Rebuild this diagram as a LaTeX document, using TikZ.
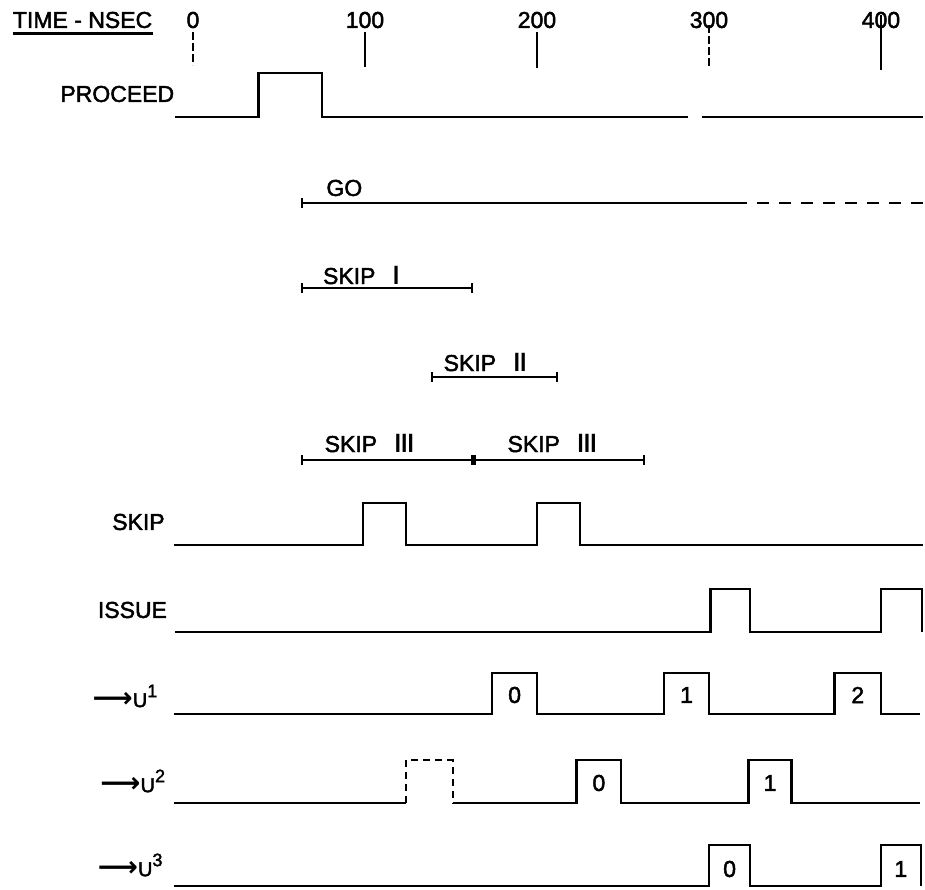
\documentclass[tikz,border=0pt]{standalone}
\usepackage{fontspec}
\setmainfont{Liberation Sans}[BoldFont={Liberation Sans}, BoldFeatures={FakeBold=2}]
\newfontfamily\symfont{DejaVu Sans}
\newcommand{\rmnum}[1]{{\symfont\mdseries\fontsize{12.5}{14}\selectfont\scalebox{1.3}[1]{#1}}}
\newcommand{\uarrow}{{\symfont\fontsize{14}{14}\selectfont ⟶}}
\usetikzlibrary{arrows.meta, positioning}

\begin{document}
\begin{tikzpicture}[x=0.86pt, y=-0.5pt,
		lbl/.style={font=\fontsize{11.5}{13}\selectfont\bfseries, inner sep=0pt},
		ulbl/.style={lbl, anchor=east},
		signal/.style={line width=1.2pt, line join=miter},
		ghost/.style={signal, dash pattern=on 3.5pt off 2.5pt},
		span/.style={signal, {Bar[width=5pt]}-{Bar[width=5pt]}},
		tick/.style={line width=1.1pt}
	]
	\useasboundingbox (-112.2,0) rectangle (425.6,890);

	% time scale
	\node[lbl] (axis) at (-64.2,20) {TIME - NSEC};
	\draw[line width=1.3pt] ([yshift=-2.5pt]axis.south west) -- ([yshift=-2.5pt]axis.south east);
	\foreach \t in {0,100,...,400}
		\node[lbl, fill=white, inner sep=0.5pt] (n\t) at (\t,20) {\t};
	\foreach \t/\a/\b in {100/32/67, 200/32/68}
		\draw[tick] (\t,\a) -- (\t,\b);
	\draw[tick] (400,15) -- (400,70);
	\draw[tick, dash pattern=on 4pt off 1.5pt] (0,32) -- (0,65);
	\draw[tick, dash pattern=on 4pt off 1.5pt] (300,25) -- (300,68);

	% PROCEED
	\node[lbl] (proceed) at (-44,94) {PROCEED};
	\draw[signal] (-10.5,117) -- (38,117) -- (38,73) -- (75,73) -- (75,117) -- (288,117);
	\draw[signal] (296,117) -- (424.4,117);

	% GO
	\node[lbl] (go) at (88,188) {GO};
	\draw[signal, {Bar[width=5pt]}-] (62.8,203) -- (315,203);
	\draw[signal, dash pattern=on 6pt off 5pt] (315,203) -- (424.4,203);

	% skip intervals
	\node[lbl] (skipI) at (98.3,275) {SKIP\hspace{8pt}\rmnum{Ⅰ}};
	\draw[span] (62.8,288) -- (163,288);
	\node[lbl] (skipII) at (170.3,362) {SKIP\hspace{8pt}\rmnum{Ⅱ}};
	\draw[span] (138.4,377) -- (212.2,377);
	\node[lbl] (skipIIIa) at (103,443) {SKIP\hspace{8pt}\rmnum{Ⅲ}};
	\node[lbl] (skipIIIb) at (209.3,443) {SKIP\hspace{8pt}\rmnum{Ⅲ}};
	\draw[span] (62.8,460) -- (163,460);
	\draw[span] (163,460) -- (262.8,460);

	% SKIP
	\node[lbl] (skip) at (-31.7,522) {SKIP};
	\draw[signal] (-11,545) -- (99,545) -- (99,503) -- (124,503) -- (124,545) -- (200,545) -- (200,503) -- (225,503) -- (225,545) -- (424.4,545);

	% ISSUE
	\node[lbl] (issue) at (-35.2,610) {ISSUE};
	\draw[signal] (-10.5,632) -- (301,632) -- (301,589) -- (324,589) -- (324,632) -- (400,632) -- (400,589) -- (424,589) -- (424,632);

	% U1
	\node[ulbl] (u1) at (-20.5,696) {\uarrow{\fontsize{10}{12}\selectfont U}\raisebox{5pt}{\fontsize{9}{10}\selectfont 1}};
	\draw[signal] (-11,714) -- (174,714) -- (174,673) -- (200,673) -- (200,714) -- (274,714) -- (274,673) -- (300,673) -- (300,714) -- (373,714) -- (373,673) -- (400,673) -- (400,714) -- (422.7,714);
	\node[lbl] (u1a) at (187,695) {0};
	\node[lbl] (u1b) at (287,695) {1};
	\node[lbl] (u1c) at (386.5,695) {2};

	% U2
	\node[ulbl] (u2) at (-16,781) {\uarrow{\fontsize{10}{12}\selectfont U}\raisebox{5pt}{\fontsize{9}{10}\selectfont 2}};
	\draw[signal] (-11,803) -- (124,803);
	\draw[ghost] (124,803) -- (124,760) -- (151,760) -- (151,803);
	\draw[signal] (151,803) -- (223,803) -- (223,760) -- (249,760) -- (249,803) -- (323,803) -- (323,760) -- (348,760) -- (348,803) -- (422.7,803);
	\node[lbl] (u2a) at (236,783) {0};
	\node[lbl] (u2b) at (335.5,783) {1};

	% U3
	\node[ulbl] (u3) at (-17.5,865) {\uarrow{\fontsize{10}{12}\selectfont U}\raisebox{5pt}{\fontsize{9}{10}\selectfont 3}};
	\draw[signal] (-11,886) -- (300,886) -- (300,845) -- (324,845) -- (324,886) -- (400,886) -- (400,845) -- (423.3,845) -- (423.3,886);
	\node[lbl] (u3a) at (312,869) {0};
	\node[lbl] (u3b) at (411.5,869) {1};
\end{tikzpicture}
\end{document}
